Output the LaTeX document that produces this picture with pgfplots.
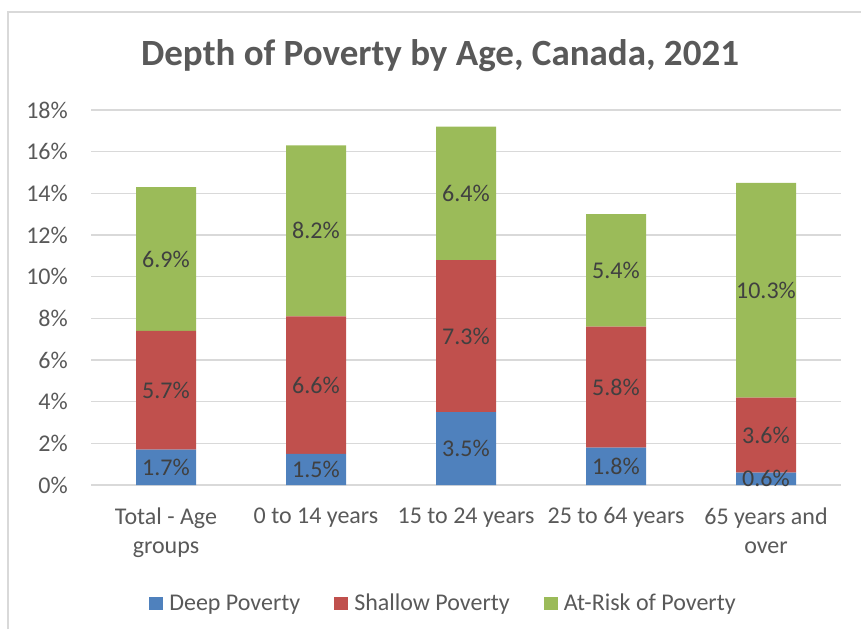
\documentclass[border=0pt]{standalone}
\usepackage{pgfplots}
\pgfplotsset{compat=1.18}
\usepackage{fontspec}
\setmainfont{Carlito}
\definecolor{deep}{HTML}{4F81BD}
\definecolor{shallow}{HTML}{C0504D}
\definecolor{risk}{HTML}{9BBB59}
\definecolor{txt}{HTML}{595959}
\definecolor{lbl}{HTML}{404040}
\definecolor{gridc}{HTML}{D9D9D9}
\begin{document}
\begin{tikzpicture}[x=1pt,y=1pt]
\useasboundingbox (0,0) rectangle (861,-629);
\draw[gridc, line width=1.2pt] (8,-629) -- (8,-12) -- (861,-12);
\node[font=\fontsize{37}{42}\selectfont\bfseries, text=txt] at (440,-56) {Depth of Poverty by Age, Canada, 2021};
\begin{axis}[
  at={(91pt,-485pt)}, anchor=south west,
  scale only axis, width=750pt, height=375pt,
  ybar stacked, bar width=60pt,
  xmin=-0.5, xmax=4.5, ymin=0, ymax=18,
  xtick={0,1,2,3,4},
  xticklabels={Total - Age\\groups, 0 to 14 years, 15 to 24 years, 25 to 64 years, 65 years and\\over},
  ytick={0,2,...,18},
  yticklabel={\pgfmathprintnumber{\tick}\%},
  /pgf/number format/assume math mode=true,
  axis line style={draw=none},
  major tick length=0pt,
  ymajorgrids, grid style={gridc, line width=1.3pt},
  tick label style={font=\fontsize{24}{29}\selectfont, text=txt},
  xticklabel style={align=center, anchor=north, yshift=-19pt},
  yticklabel style={anchor=east, inner sep=0pt, xshift=-23pt},
  point meta=rawy,
  nodes near coords={\pgfmathprintnumber[fixed,fixed zerofill,precision=1]{\pgfplotspointmeta}\%},
  every node near coord/.append style={anchor=center, inner sep=0pt, font=\fontsize{24}{27}\selectfont, text=lbl},
  legend columns=3,
  legend style={at={(0.47,-0.315)}, anchor=center, draw=none, fill=none,
    font=\fontsize{24}{27}\selectfont, text=txt,
    /tikz/every odd column/.append style={column sep=4pt},
    /tikz/every even column/.append style={column sep=32pt}},
  legend image code/.code={\fill[#1] (0pt,-6.5pt) rectangle (14pt,6.5pt);},
]
\addplot[fill=deep, draw=none] coordinates {(0,1.7) (1,1.5) (2,3.5) (3,1.8) (4,0.6)};
\addplot[fill=shallow, draw=none] coordinates {(0,5.7) (1,6.6) (2,7.3) (3,5.8) (4,3.6)};
\addplot[fill=risk, draw=none] coordinates {(0,6.9) (1,8.2) (2,6.4) (3,5.4) (4,10.3)};
\legend{Deep Poverty, Shallow Poverty, At-Risk of Poverty}
\end{axis}
\end{tikzpicture}
\end{document}
